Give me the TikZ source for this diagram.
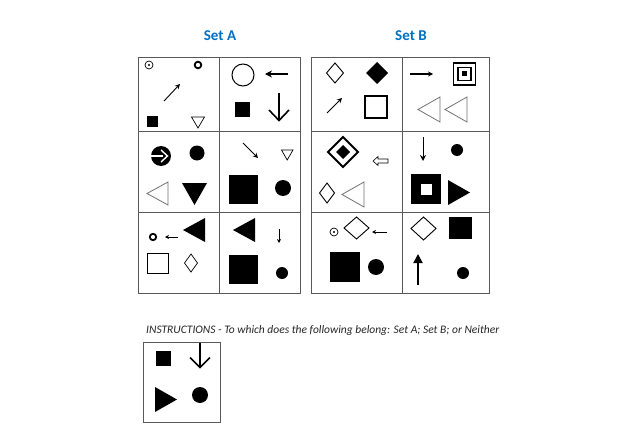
\documentclass[tikz,border=0pt]{standalone}
\usepackage{fontspec}
\setmainfont{Carlito}
\usetikzlibrary{arrows.meta}
\definecolor{setblue}{RGB}{0,112,192}
\begin{document}
\begin{tikzpicture}[x=1pt,y=-1pt,
  frame/.style={draw=black!65,line width=0.8pt},
  outl/.style={draw=black,line width=0.9pt},
  grayl/.style={draw=black!55,line width=0.8pt,line join=miter},
  thinarrow/.style={line width=0.9pt,-{Stealth[length=5pt,width=5pt]}},
  title/.style={font=\fontsize{15}{18}\selectfont\bfseries,text=setblue,inner sep=0pt},
  diam/.style={line width=0.9pt,line join=miter}
]
\useasboundingbox[fill=white] (0,0) rectangle (640,428);

% titles
\node[title] (ta) at (220,36) {Set A};
\node[title] (tb) at (411,36) {Set B};

% Set A frame
\draw[frame] (138,57) rectangle (300,293);
\draw[frame] (219,57) -- (219,293);
\draw[frame] (138,131) -- (300,131);
\draw[frame] (138,212) -- (300,212);
% Set B frame
\draw[frame] (311,57) rectangle (489,293);
\draw[frame] (402,57) -- (402,293);
\draw[frame] (311,131) -- (489,131);
\draw[frame] (311,212) -- (489,212);

% ---- A1
\draw[line width=0.7pt] (149,65) circle (4); \fill (149,65) circle (1.1);
\draw[line width=1.8pt] (198,65) circle (3.3);
\draw[thinarrow] (164,101) -- (180,84);
\fill (146.5,115.5) rectangle (157.5,126.5);
\draw[line width=0.7pt] (191.5,117) -- (204.5,117) -- (198,128) -- cycle;

% ---- A2
\draw[line width=1pt] (243,75) circle (11);
\draw[line width=1.4pt,-{Stealth[length=7pt,width=7pt]}] (288,74) -- (265,74);
\fill (235,102) rectangle (250,117);
\draw[line width=1.6pt] (279,93) -- (279,120);
\draw[line width=1.6pt,line join=miter] (269,110) -- (279,120.5) -- (289,110);

% ---- A3
\fill (161,156) circle (10);
\draw[white,line width=2pt] (150,156) -- (163,156);
\draw[white,line width=1.4pt] (161,150) -- (167.5,156) -- (161,162);
\fill (197,153) circle (7.5);
\draw[grayl] (168,182) -- (147,193.5) -- (168,205) -- cycle;
\fill (182,183) -- (207,183) -- (194.5,205) -- cycle;

% ---- A4
\draw[thinarrow] (243,143) -- (258,158);
\draw[line width=0.7pt] (281.5,150) -- (293,150) -- (287.2,160) -- cycle;
\fill (229,175) rectangle (258,204);
\fill (283,188) circle (8);

% ---- A5
\draw[line width=1.8pt] (153,237) circle (3.2);
\draw[line width=0.8pt,-{Stealth[length=4pt,width=4pt]}] (178,237) -- (165,237);
\fill (205,218) -- (205,242) -- (183,230) -- cycle;
\draw[line width=0.9pt] (147,253) rectangle (168,273);
\draw[line width=0.7pt,line join=miter] (191,254) -- (197.5,263) -- (191,272) -- (184.5,263) -- cycle;

% ---- A6
\fill (255,218) -- (255,242) -- (233,230) -- cycle;
\draw[line width=0.9pt,-{Stealth[length=4pt,width=4pt]}] (279,229) -- (279,243);
\fill (229,255) rectangle (258,284);
\fill (282,273) circle (6);

% ---- B1
\draw[diam] (335,63) -- (343.5,73) -- (335,83) -- (326.5,73) -- cycle;
\fill (377,62) -- (388,73) -- (377,84) -- (366,73) -- cycle;
\draw[thinarrow] (327,113) -- (342,98);
\draw[line width=1.2pt] (365,96) rectangle (387,118);

% ---- B2
\draw[line width=1.3pt,-{Stealth[length=5pt,width=5pt]}] (410,74) -- (433,74);
\draw[line width=1.2pt] (453.5,63) rectangle (475.5,85);
\draw[line width=1.2pt] (458,67.5) rectangle (471,80.5);
\fill (462,71.5) rectangle (467,76.5);
\draw[grayl] (440,97) -- (418,109.5) -- (440,122) -- cycle;
\draw[grayl] (467,97) -- (445,109.5) -- (467,122) -- cycle;

% ---- B3
\draw[line width=2pt,line join=miter] (343,137) -- (358,152) -- (343,167) -- (328,152) -- cycle;
\fill (343,145) -- (350,152) -- (343,159) -- (336,152) -- cycle;
\draw[line width=0.6pt,line join=miter] (373,161) -- (378,156.5) -- (378,159) -- (388,159) -- (388,163) -- (378,163) -- (378,165.5) -- cycle;
\draw[diam] (327,183) -- (334.5,193) -- (327,203) -- (319.5,193) -- cycle;
\draw[grayl] (364,182) -- (342,194.5) -- (364,207) -- cycle;

% ---- B4
\draw[line width=1pt,-{Stealth[length=6pt,width=6pt]}] (423,137) -- (423,161);
\fill (457,150) circle (6);
\fill (411,174) rectangle (441,204);
\fill[white] (420.5,183.5) rectangle (431.5,194.5);
\fill (448,180) -- (470,192.5) -- (448,205) -- cycle;

% ---- B5
\draw[line width=0.7pt] (334,232) circle (4); \fill (334,232) circle (1.1);
\draw[diam] (356.5,217) -- (369,228) -- (356.5,239) -- (344,228) -- cycle;
\draw[line width=0.8pt,-{Stealth[length=4pt,width=4pt]}] (387,232) -- (372,232);
\fill (330,252) rectangle (360,282);
\fill (376,267) circle (8);

% ---- B6
\draw[diam] (423.5,217) -- (436,228.5) -- (423.5,240) -- (411,228.5) -- cycle;
\fill (449,217) rectangle (472,239);
\draw[line width=1.8pt,-{Triangle[length=9pt,width=9pt]}] (418,285) -- (418,254);
\fill (463,273) circle (6);

% ---- Instructions
\node[anchor=west,inner sep=0pt,font=\fontsize{11.5}{13}\selectfont\itshape,text=black!85] (instr) at (146,330)
  {INSTRUCTIONS - To which does the following belong: Set A; Set B; or Neither};

% ---- Answer box
\draw[frame] (143,342) rectangle (220,422);
\fill (155.5,350.5) rectangle (170.5,365.5);
\draw[line width=1.6pt] (200,343) -- (200,367);
\draw[line width=1.6pt,line join=miter] (190,357.5) -- (200,367.5) -- (210,357.5);
\fill (155,387) -- (177,399.5) -- (155,412) -- cycle;
\fill (200,395) circle (8);
\end{tikzpicture}
\end{document}
